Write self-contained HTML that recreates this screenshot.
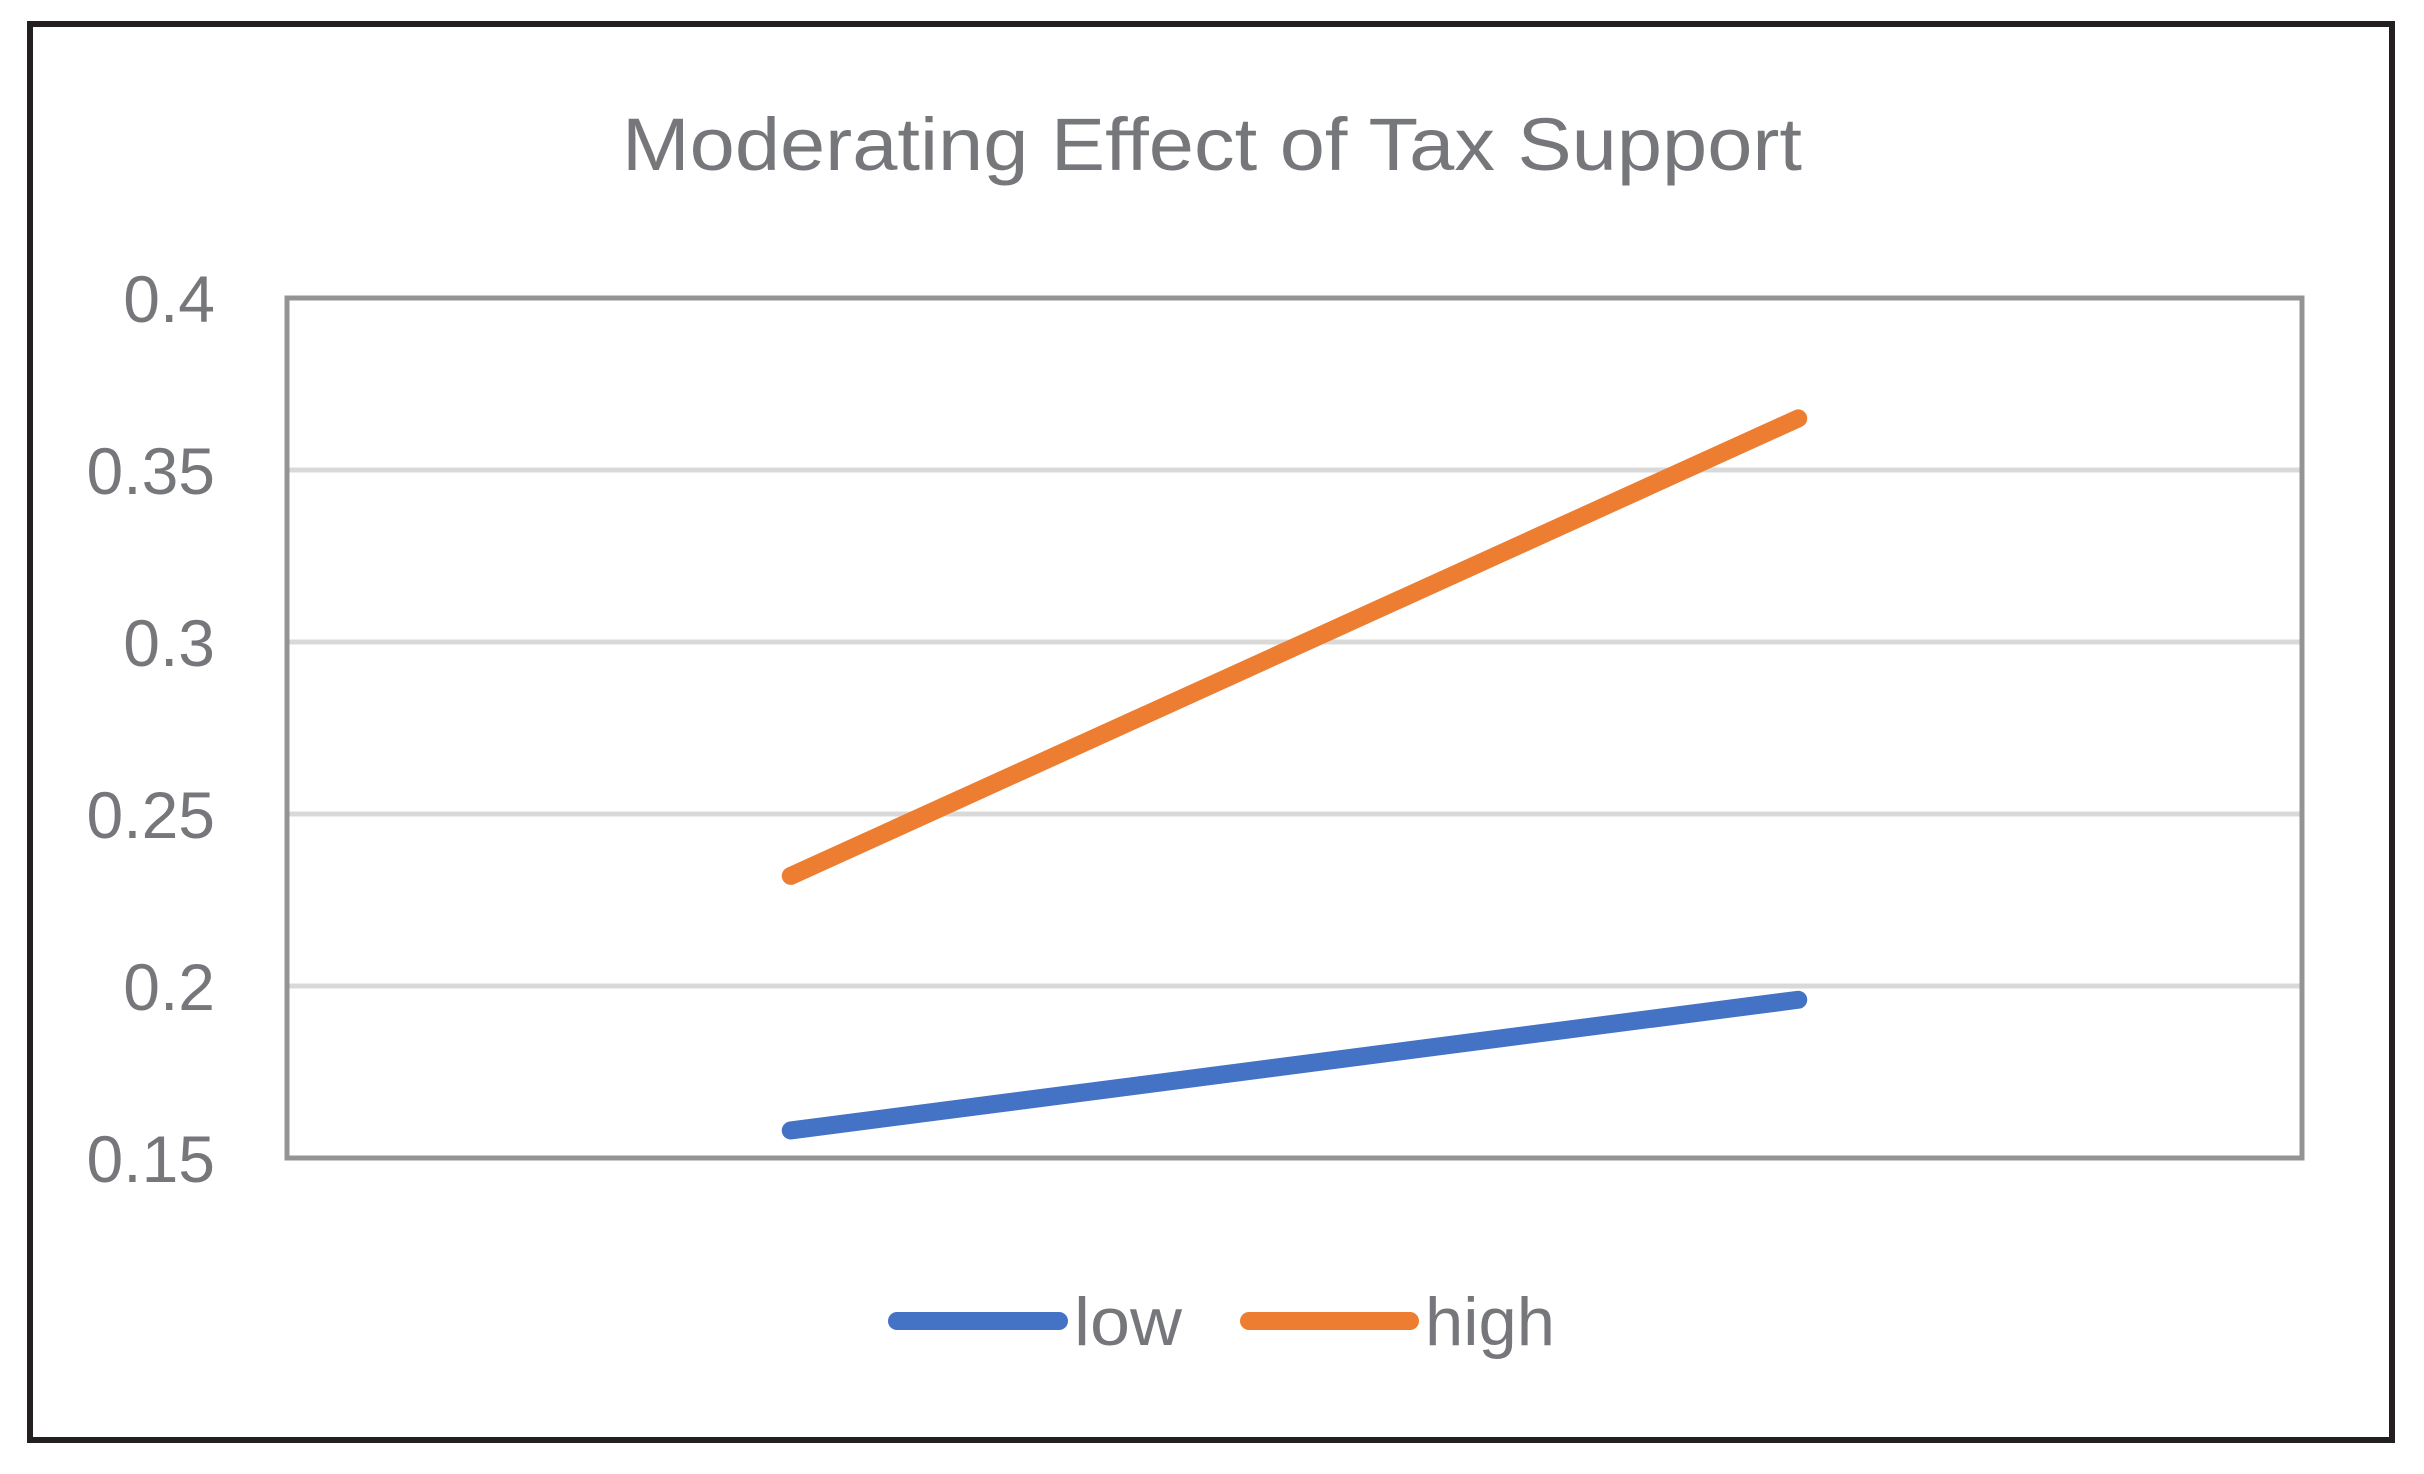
<!DOCTYPE html>
<html><head><meta charset="utf-8"><style>
html,body{margin:0;padding:0;background:#fff;}
svg{display:block;}
text{font-family:"Liberation Sans",sans-serif;fill:#76777b;}
</style></head><body>
<svg id="chart" width="2424" height="1474" viewBox="0 0 2424 1474" xmlns="http://www.w3.org/2000/svg">
<rect x="30" y="24" width="2362" height="1416" fill="#fff" stroke="#231f20" stroke-width="6"/>
<text x="1212" y="170" font-size="74" text-anchor="middle" textLength="1180" lengthAdjust="spacingAndGlyphs">Moderating Effect of Tax Support</text>
<g id="grid"></g>
<g id="ticks"></g>
<rect x="287" y="298" width="2015" height="860" fill="none" stroke="#949497" stroke-width="5"/>
<g id="series"></g>
<g>
<line x1="897" y1="1321" x2="1059" y2="1321" stroke="#4472c4" stroke-width="18" stroke-linecap="round"/>
<text x="1074" y="1345" font-size="68" textLength="108" lengthAdjust="spacingAndGlyphs">low</text>
<line x1="1249" y1="1321" x2="1410" y2="1321" stroke="#ed7d31" stroke-width="18" stroke-linecap="round"/>
<text x="1425" y="1345" font-size="68" textLength="130" lengthAdjust="spacingAndGlyphs">high</text>
</g>
</svg>
<script>
const categories = ["A", "B"];
const lowValues = [0.158, 0.196];
const highValues = [0.232, 0.365];
const tickValues = [0.15, 0.2, 0.25, 0.3, 0.35, 0.4];
const tickLabels = ["0.15", "0.2", "0.25", "0.3", "0.35", "0.4"];

const NS = "http://www.w3.org/2000/svg";
const L = 287, R = 2302, T = 298, B = 1158, yMin = 0.15, yMax = 0.4;
function y(v){ return B - (v - yMin) / (yMax - yMin) * (B - T); }
function x(i){ return L + (i + 0.5) * (R - L) / categories.length; }

const grid = document.getElementById('grid');
const ticks = document.getElementById('ticks');
tickValues.forEach((v, i) => {
  if (v > yMin && v < yMax) {
    const g = document.createElementNS(NS, 'line');
    
    
    g.setAttribute('x1', L); g.setAttribute('x2', R);
    g.setAttribute('y1', y(v)); g.setAttribute('y2', y(v));
    g.setAttribute('stroke', '#d9d9d9'); g.setAttribute('stroke-width', '5');
    grid.appendChild(g);
  }
  const t = document.createElementNS(NS, 'text');
  
  
  t.setAttribute('x', 215); t.setAttribute('y', y(v) + 24);
  t.setAttribute('font-size', '66'); t.setAttribute('text-anchor', 'end');
  t.textContent = tickLabels[i];
  ticks.appendChild(t);
});

const series = document.getElementById('series');
function drawLine(vals, color, name){
  const p = document.createElementNS(NS, 'polyline');
  
  
  p.setAttribute('points', vals.map((v, i) => x(i) + ',' + y(v)).join(' '));
  p.setAttribute('fill', 'none'); p.setAttribute('stroke', color);
  p.setAttribute('stroke-width', '18'); p.setAttribute('stroke-linecap', 'round');
  series.appendChild(p);
}
drawLine(lowValues, '#4472c4', 'series-low-line');
drawLine(highValues, '#ed7d31', 'series-high-line');
</script>
</body></html>
